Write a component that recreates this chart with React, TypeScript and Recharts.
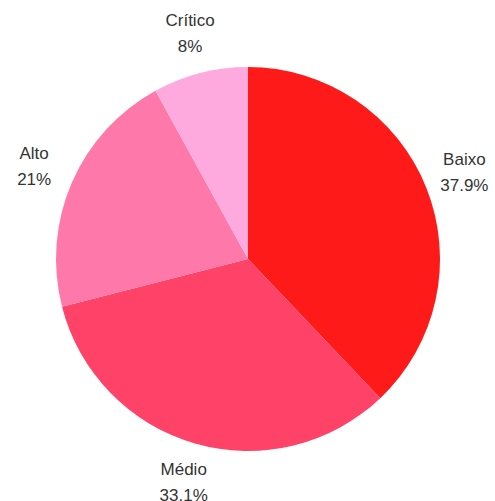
import React from "react";
import { PieChart, Pie, Cell } from "recharts";

const categories = ["Baixo", "Médio", "Alto", "Crítico"];
const values = [37.9, 33.1, 21, 8];
const colors = ["#ff1a1a", "#ff4268", "#ff78aa", "#ffaade"];

const data = categories.map((name, i) => ({ name, value: values[i] }));
const total = values.reduce((a, b) => a + b, 0);

const RAD = Math.PI / 180;

const renderLabel = (props: any) => {
  const { cx, cy, midAngle, index, value } = props;
  const r = 233;
  const x = cx + r * Math.cos(-midAngle * RAD);
  const y = cy + r * Math.sin(-midAngle * RAD);
  const pct = Math.round((value / total) * 1000) / 10;
  const pctText = (Number.isInteger(pct) ? pct.toFixed(0) : pct.toFixed(1)) + "%";
  return (
    <text
      x={x}
      y={y}
      textAnchor="middle"
      fill="#333"
      fontSize={17}
      fontFamily="'Liberation Sans', Arial, sans-serif"
    >
      <tspan x={x} y={y - 13} dominantBaseline="central">
        {categories[index]}
      </tspan>
      <tspan x={x} y={y + 13} dominantBaseline="central">
        {pctText}
      </tspan>
    </text>
  );
};

export default function App() {
  return (
    <div style={{ position: "absolute", left: 0, top: 0, width: 495, height: 501, background: "#fff" }}>
      <PieChart width={495} height={501} margin={{ top: 0, right: 0, bottom: 0, left: 0 }}>
        <Pie
          data={data}
          dataKey="value"
          nameKey="name"
          cx={248}
          cy={259}
          outerRadius={192}
          startAngle={90}
          endAngle={-270}
          stroke="none"
          label={renderLabel}
          labelLine={false}
          isAnimationActive={false}
        >
          {data.map((d, i) => (
            <Cell key={d.name} fill={colors[i]} />
          ))}
        </Pie>
      </PieChart>
    </div>
  );
}
